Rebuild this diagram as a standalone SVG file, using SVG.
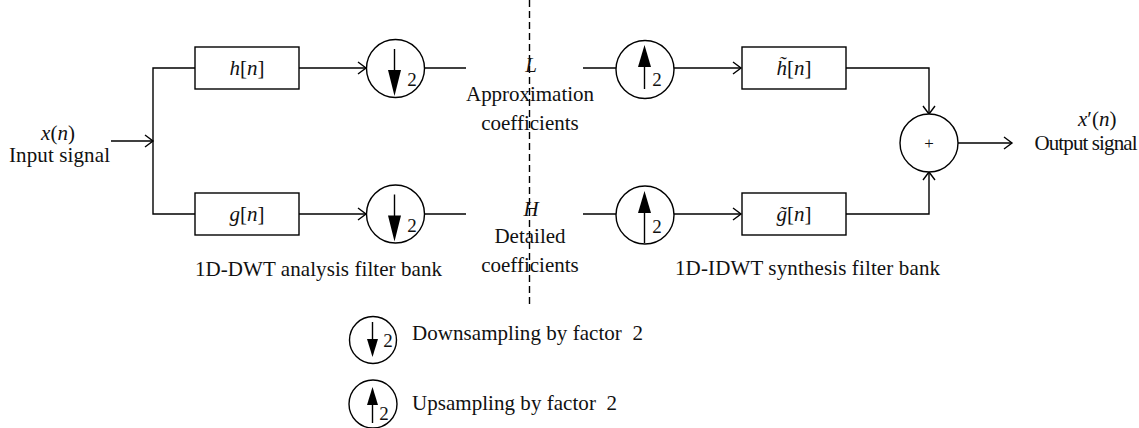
<svg xmlns="http://www.w3.org/2000/svg" width="1139" height="428" viewBox="0 0 1139 428">
<defs>
<marker id="arr" markerUnits="userSpaceOnUse" markerWidth="12" markerHeight="14" refX="9" refY="7" orient="auto" viewBox="0 0 12 14">
<path d="M1,1 L9,7 L1,13" fill="none" stroke="#000" stroke-width="1.4"/>
</marker>
</defs>
<style>
.ln{fill:none;stroke:#000;stroke-width:1.4}
.bx{fill:#fff;stroke:#000;stroke-width:1.4}
.t{font-family:"Liberation Serif","Times New Roman",serif;font-size:21px;fill:#111;white-space:pre}
.m{font-style:italic}
.c{text-anchor:middle}
.s{font-family:"Liberation Serif","Times New Roman",serif;font-size:19px;fill:#111}
.tri{fill:#000;stroke:none}
</style>
<rect width="1139" height="428" fill="#fff"/>

<g id="connectors">
<line class="ln" x1="111" y1="141" x2="153" y2="141" marker-end="url(#arr)"/>
<polyline class="ln" points="195,68 153,68 153,214 195,214"/>
<line class="ln" x1="299" y1="68" x2="366" y2="68" marker-end="url(#arr)"/>
<line class="ln" x1="299" y1="214" x2="366" y2="214" marker-end="url(#arr)"/>
<line class="ln" x1="424" y1="68" x2="466" y2="68"/>
<line class="ln" x1="424" y1="214" x2="466" y2="214"/>
<line class="ln" x1="583" y1="68" x2="616" y2="68"/>
<line class="ln" x1="583" y1="214" x2="616" y2="214"/>
<line class="ln" x1="674" y1="68" x2="741" y2="68" marker-end="url(#arr)"/>
<line class="ln" x1="674" y1="214" x2="741" y2="214" marker-end="url(#arr)"/>
<polyline class="ln" points="846,68 929,68 929,114" marker-end="url(#arr)"/>
<polyline class="ln" points="846,214 929,214 929,172" marker-end="url(#arr)"/>
<line class="ln" x1="958" y1="143" x2="1012" y2="143" marker-end="url(#arr)"/>
<line class="ln" x1="529.5" y1="0" x2="529.5" y2="305" stroke-dasharray="7,4"/>
</g>

<g id="input">
<text class="t c" x="58" y="140"><tspan class="m">x</tspan>(<tspan class="m">n</tspan>)</text>
<text class="t c" x="59.5" y="162" textLength="101">Input signal</text>
</g>

<g id="h">
<rect class="bx" x="195" y="47" width="104" height="42"/>
<text class="t c" x="247" y="75"><tspan class="m">h</tspan>[<tspan class="m">n</tspan>]</text>
</g>
<g id="g">
<rect class="bx" x="195" y="193" width="104" height="42"/>
<text class="t c" x="247" y="221"><tspan class="m">g</tspan>[<tspan class="m">n</tspan>]</text>
</g>

<g id="down1">
<circle class="bx" cx="395.5" cy="68.5" r="29"/>
<line class="ln" x1="394.5" y1="49" x2="394.5" y2="80"/>
<polygon class="tri" points="388,70 401,70 394.5,96"/>
<text class="s c" x="412" y="86">2</text>
</g>
<g id="down2">
<circle class="bx" cx="395.5" cy="214" r="29"/>
<line class="ln" x1="394.5" y1="194.5" x2="394.5" y2="225"/>
<polygon class="tri" points="388,215.5 401,215.5 394.5,241.5"/>
<text class="s c" x="412" y="231.5">2</text>
</g>

<g id="L">
<text class="t c m" x="531" y="72">L</text>
<text class="t c" x="530" y="101" textLength="128">Approximation</text>
<text class="t c" x="530" y="130">coefficients</text>
</g>
<g id="H">
<text class="t c m" x="531" y="216">H</text>
<text class="t c" x="530" y="243">Detailed</text>
<text class="t c" x="530" y="272">coefficients</text>
</g>

<g id="up1">
<circle class="bx" cx="645" cy="69.5" r="29"/>
<line class="ln" x1="644.5" y1="65" x2="644.5" y2="89"/>
<polygon class="tri" points="638,67 651,67 644.5,45"/>
<text class="s c" x="657" y="86">2</text>
</g>
<g id="up2">
<circle class="bx" cx="645" cy="215" r="29"/>
<line class="ln" x1="644.5" y1="210" x2="644.5" y2="243"/>
<polygon class="tri" points="638,213 651,213 644.5,191"/>
<text class="s c" x="657" y="233">2</text>
</g>

<g id="ht">
<rect class="bx" x="742" y="47" width="104" height="42"/>
<text class="t c" x="794" y="75"><tspan class="m">h̃</tspan>[<tspan class="m">n</tspan>]</text>
</g>
<g id="gt">
<rect class="bx" x="742" y="193" width="104" height="42"/>
<text class="t c" x="794" y="221"><tspan class="m">g̃</tspan>[<tspan class="m">n</tspan>]</text>
</g>

<g id="sum">
<circle class="bx" cx="929" cy="143" r="29"/>
<text class="s c" x="929" y="149" style="font-size:17px">+</text>
</g>

<g id="output">
<text class="t" x="1078" y="126"><tspan class="m">x</tspan>′(<tspan class="m">n</tspan>)</text>
<text class="t c" x="1086" y="150" textLength="103">Output signal</text>
</g>

<g id="captions">
<text class="t" x="195" y="276" textLength="247">1D-DWT analysis filter bank</text>
<text class="t" x="675" y="275" textLength="265">1D-IDWT synthesis filter bank</text>
</g>

<g id="legend-down">
<circle class="bx" cx="373" cy="340" r="23.5"/>
<line class="ln" x1="372.5" y1="322" x2="372.5" y2="345"/>
<polygon class="tri" points="367,339 378,339 372.5,357"/>
<text class="s c" x="388" y="347">2</text>
<text class="t" x="412" y="340" textLength="231">Downsampling by factor  2</text>
</g>
<g id="legend-up">
<circle class="bx" cx="373" cy="404" r="24"/>
<line class="ln" x1="372.5" y1="400" x2="372.5" y2="423"/>
<polygon class="tri" points="367,405 378,405 372.5,387"/>
<text class="s c" x="384" y="420">2</text>
<text class="t" x="412" y="410" textLength="205">Upsampling by factor  2</text>
</g>
</svg>
